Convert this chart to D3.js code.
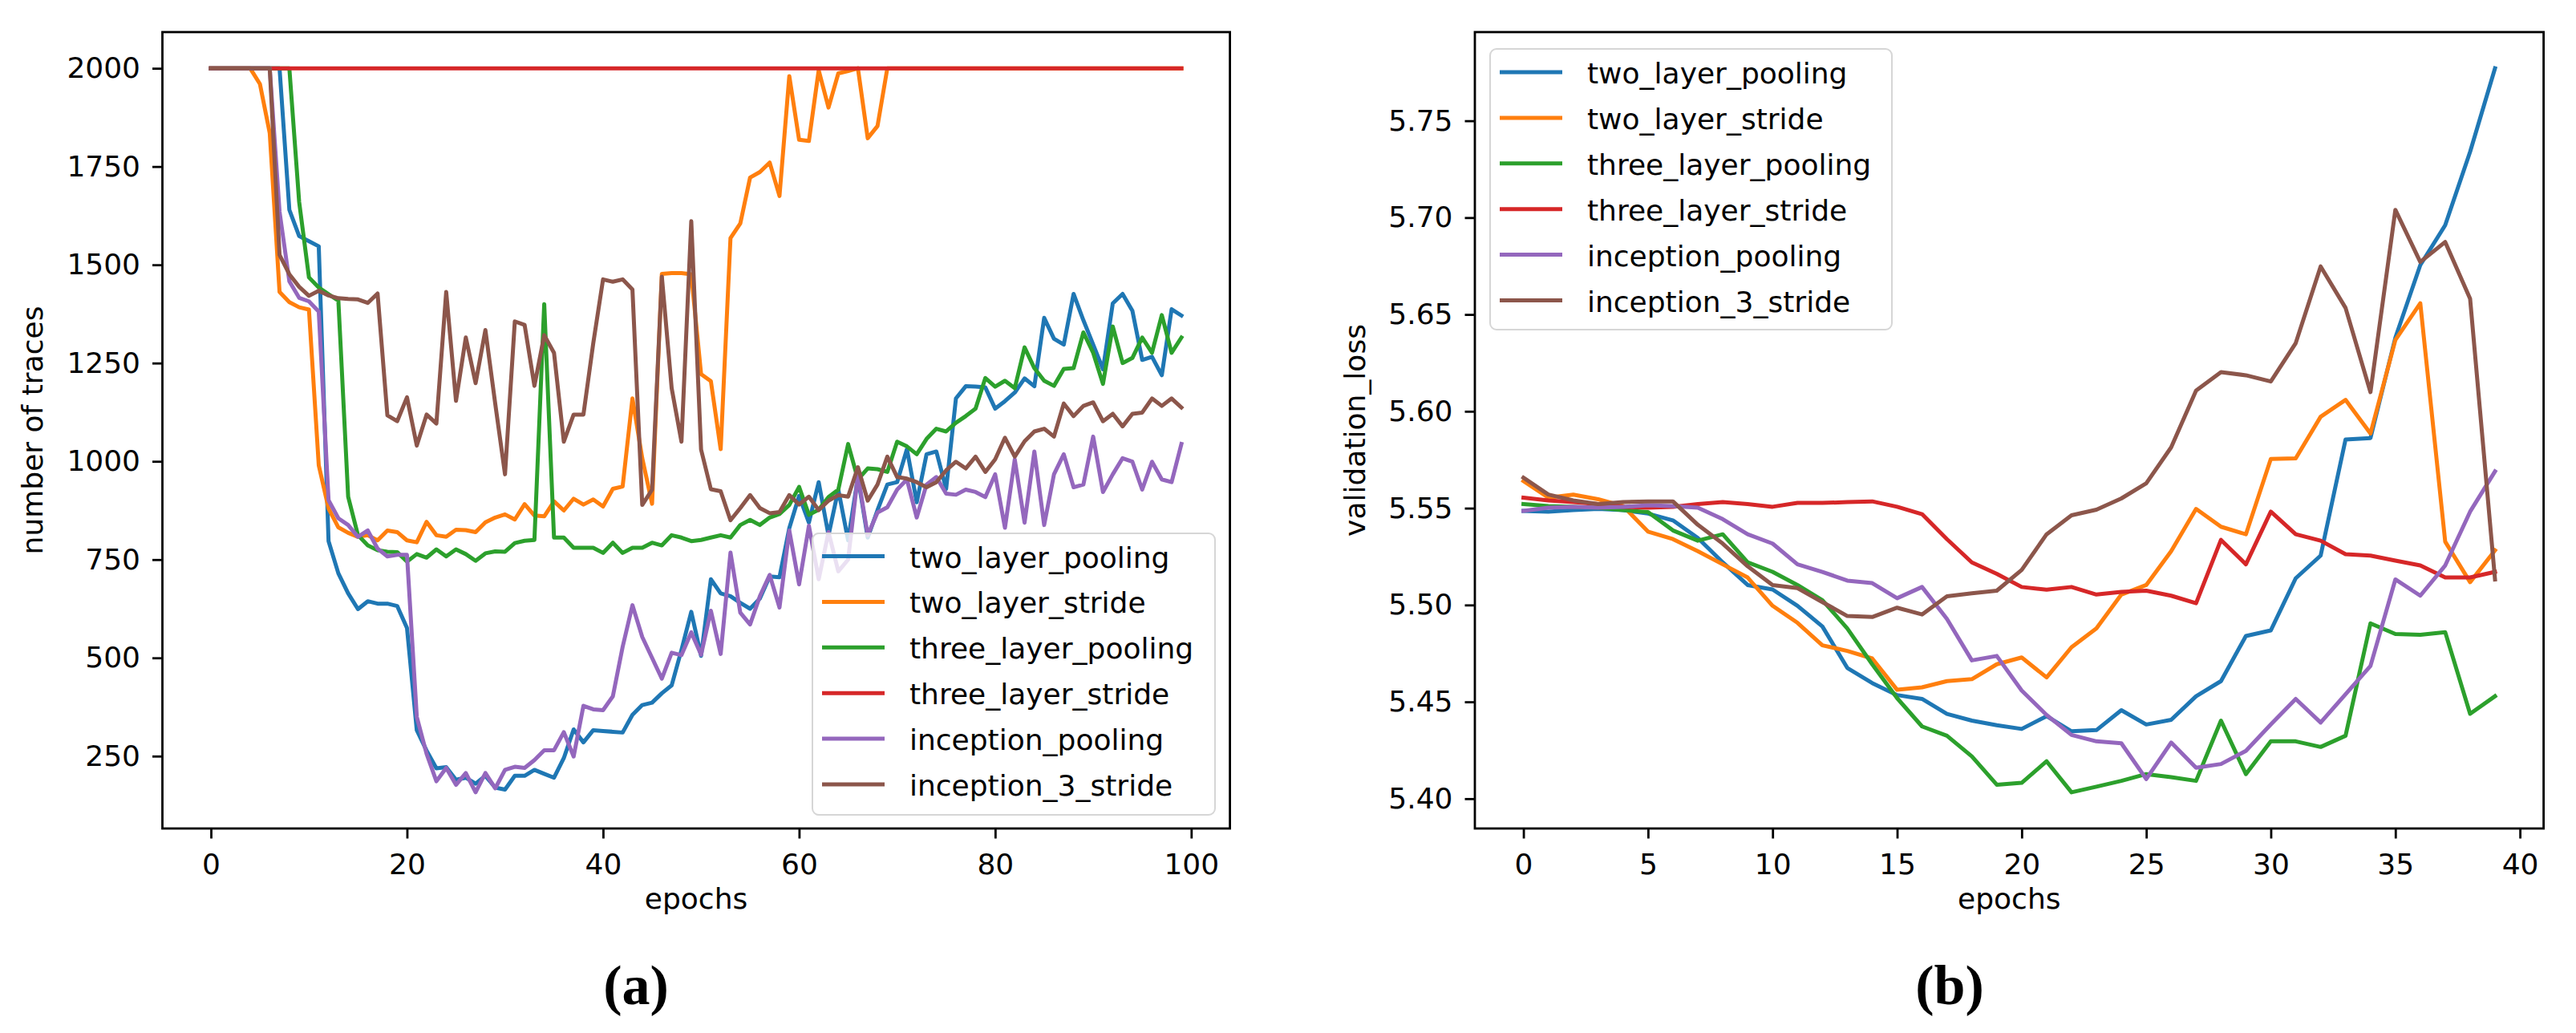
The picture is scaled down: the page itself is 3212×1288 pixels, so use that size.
<!DOCTYPE html>
<html>
<head>
<meta charset="utf-8">
<script src="https://cdn.jsdelivr.net/npm/d3@7"></script>
<style>
  body { margin: 0; background: #fff; }
  svg text { font-family: "DejaVu Sans", sans-serif; fill: #000; }
</style>
</head>
<body>
<svg id="chart"></svg>
<script>
// series names and matplotlib tab10 colours
const seriesNames = ["two_layer_pooling", "two_layer_stride", "three_layer_pooling",
  "three_layer_stride", "inception_pooling", "inception_3_stride"];
const seriesColors = ["#1f77b4", "#ff7f0e", "#2ca02c", "#d62728", "#9467bd", "#8c564b"];

// (a) number of traces, epochs 0..99
const tracesTwoLayerPooling = [2000, 2000, 2000, 2000, 2000, 2000, 2000, 2000, 1640, 1573,
  1560, 1547, 797, 715, 664, 624, 644, 638, 638, 632,
  576, 316, 264, 219, 222, 190, 195, 180, 200, 170,
  165, 200, 200, 215, 205, 195, 245, 318, 285, 316,
  314, 312, 310, 355, 380, 386, 410, 430, 520, 617,
  505, 700, 664, 657, 640, 625, 651, 707, 705, 830,
  912, 844, 947, 812, 928, 799, 960, 806, 876, 941,
  947, 1031, 896, 1018, 1025, 930, 1160, 1191, 1190, 1188,
  1134, 1153, 1175, 1211, 1191, 1365, 1312, 1297, 1426, 1359,
  1297, 1234, 1402, 1426, 1383, 1258, 1266, 1219, 1387, 1371];
const tracesTwoLayerStride = [2000, 2000, 2000, 2000, 2000, 1960, 1835, 1431, 1405, 1392,
  1386, 990, 880, 832, 818, 808, 812, 799, 824, 820,
  799, 794, 846, 812, 808, 826, 825, 820, 845, 857,
  865, 852, 891, 862, 860, 898, 875, 905, 890, 903,
  885, 930, 936, 1160, 1008, 892, 1477, 1479, 1479, 1476,
  1222, 1204, 1031, 1568, 1605, 1722, 1736, 1760, 1675, 1980,
  1818, 1815, 1995, 1900, 1987, 1993, 2000, 1822, 1853, 2000,
  2000, 2000, 2000, 2000, 2000, 2000, 2000, 2000, 2000, 2000,
  2000, 2000, 2000, 2000, 2000, 2000, 2000, 2000, 2000, 2000,
  2000, 2000, 2000, 2000, 2000, 2000, 2000, 2000, 2000, 2000];
const tracesThreeLayerPooling = [2000, 2000, 2000, 2000, 2000, 2000, 2000, 2000, 2000, 1660,
  1468, 1442, 1425, 1409, 910, 812, 786, 774, 770, 769,
  745, 764, 755, 776, 758, 776, 764, 747, 766, 771,
  770, 792, 798, 800, 1400, 806, 806, 780, 780, 780,
  767, 793, 767, 780, 780, 793, 786, 812, 806, 797,
  800, 806, 812, 806, 838, 851, 838, 857, 866, 889,
  935, 864, 877, 909, 928, 1044, 954, 982, 980, 973,
  1050, 1038, 1018, 1057, 1083, 1076, 1098, 1115, 1134, 1212,
  1190, 1205, 1186, 1290, 1237, 1205, 1192, 1235, 1237, 1328,
  1276, 1197, 1343, 1250, 1263, 1315, 1276, 1372, 1276, 1315];
const tracesThreeLayerStride = [2000, 2000, 2000, 2000, 2000, 2000, 2000, 2000, 2000, 2000,
  2000, 2000, 2000, 2000, 2000, 2000, 2000, 2000, 2000, 2000,
  2000, 2000, 2000, 2000, 2000, 2000, 2000, 2000, 2000, 2000,
  2000, 2000, 2000, 2000, 2000, 2000, 2000, 2000, 2000, 2000,
  2000, 2000, 2000, 2000, 2000, 2000, 2000, 2000, 2000, 2000,
  2000, 2000, 2000, 2000, 2000, 2000, 2000, 2000, 2000, 2000,
  2000, 2000, 2000, 2000, 2000, 2000, 2000, 2000, 2000, 2000,
  2000, 2000, 2000, 2000, 2000, 2000, 2000, 2000, 2000, 2000,
  2000, 2000, 2000, 2000, 2000, 2000, 2000, 2000, 2000, 2000,
  2000, 2000, 2000, 2000, 2000, 2000, 2000, 2000, 2000, 2000];
const tracesInceptionPooling = [2000, 2000, 2000, 2000, 2000, 2000, 2000, 1635, 1458, 1416,
  1407, 1381, 901, 855, 838, 808, 824, 778, 758, 762,
  762, 350, 256, 186, 220, 177, 207, 158, 207, 168,
  215, 223, 220, 240, 265, 265, 311, 249, 378, 369,
  367, 402, 528, 634, 553, 500, 447, 513, 507, 565,
  508, 620, 510, 768, 615, 585, 657, 711, 628, 824,
  687, 836, 700, 820, 720, 750, 965, 812, 870, 883,
  928, 954, 857, 941, 960, 918, 915, 928, 922, 909,
  967, 831, 1005, 844, 1025, 838, 967, 1018, 934, 941,
  1063, 922, 967, 1008, 999, 928, 999, 954, 947, 1044];
const tracesInception3Stride = [2000, 2000, 2000, 2000, 2000, 2000, 2000, 1525, 1476, 1444,
  1421, 1434, 1422, 1415, 1413, 1412, 1403, 1427, 1117, 1102,
  1163, 1040, 1119, 1096, 1431, 1154, 1315, 1199, 1334, 1147,
  967, 1356, 1347, 1192, 1321, 1276, 1050, 1119, 1119, 1300,
  1463, 1457, 1463, 1437, 889, 928, 1470, 1186, 1050, 1611,
  1030, 929, 924, 850, 881, 914, 881, 868, 871, 914,
  890, 910, 876, 900, 914, 910, 985, 900, 941, 1012,
  960, 956, 947, 934, 947, 977, 999, 982, 1012, 973,
  1005, 1060, 1012, 1051, 1076, 1083, 1063, 1147, 1115, 1141,
  1150, 1102, 1121, 1089, 1121, 1124, 1160, 1141, 1160, 1137];

// (b) validation loss, epochs 0..39
const lossTwoLayerPooling = [5.5486, 5.5482, 5.549, 5.5496, 5.549, 5.5472, 5.5437, 5.5346, 5.522, 5.5103,
  5.508, 5.4996, 5.4889, 5.4675, 5.4597, 5.4535, 5.4515, 5.4438, 5.4403, 5.4379,
  5.436, 5.4426, 5.4348, 5.4354, 5.4457, 5.4383, 5.4407, 5.4529, 5.4607, 5.484,
  5.4869, 5.5138, 5.5255, 5.5854, 5.5862, 5.638, 5.6755, 5.6961, 5.734, 5.7771];
const lossTwoLayerStride = [5.564, 5.5554, 5.557, 5.5546, 5.5511, 5.5379, 5.534, 5.5278, 5.521, 5.5142,
  5.4996, 5.4908, 5.4792, 5.4763, 5.4724, 5.4562, 5.4575, 5.4607, 5.4617, 5.4694,
  5.4729, 5.4626, 5.4782, 5.4879, 5.5054, 5.5103, 5.5278, 5.5496, 5.5404, 5.5365,
  5.5754, 5.5757, 5.5972, 5.6059, 5.5885, 5.6368, 5.6558, 5.5327, 5.5118, 5.5282];
const lossThreeLayerPooling = [5.5521, 5.5511, 5.5507, 5.5502, 5.549, 5.548, 5.5385, 5.5332, 5.5365, 5.522,
  5.5171, 5.5103, 5.5025, 5.4879, 5.4694, 5.4519, 5.4373, 5.4325, 5.4218, 5.4072,
  5.4082, 5.4193, 5.4033, 5.4062, 5.4092, 5.4127, 5.4111, 5.4092, 5.4403, 5.4127,
  5.4296, 5.4296, 5.4267, 5.4325, 5.4905, 5.485, 5.4846, 5.486, 5.4438, 5.4529];
const lossThreeLayerStride = [5.5554, 5.554, 5.5531, 5.5521, 5.5507, 5.5502, 5.5507, 5.5521, 5.5531, 5.5521,
  5.5507, 5.5527, 5.5527, 5.5531, 5.5535, 5.5507, 5.5469, 5.534, 5.522, 5.5161,
  5.5093, 5.5079, 5.5093, 5.5054, 5.5068, 5.5074, 5.5048, 5.5009, 5.5336, 5.521,
  5.5482, 5.5365, 5.5332, 5.5262, 5.5255, 5.5229, 5.5204, 5.5142, 5.5142, 5.5171];
const lossInceptionPooling = [5.5486, 5.5502, 5.5507, 5.5502, 5.5507, 5.5515, 5.5511, 5.5502, 5.5443, 5.5365,
  5.5317, 5.521, 5.5171, 5.5126, 5.5113, 5.5035, 5.5093, 5.4928, 5.4714, 5.4737,
  5.4558, 5.4432, 5.4329, 5.4296, 5.4286, 5.4101, 5.429, 5.416, 5.4179, 5.4247,
  5.4383, 5.4515, 5.4393, 5.4539, 5.4685, 5.5132, 5.5048, 5.5204, 5.5482, 5.569];
const lossInception3Stride = [5.5657, 5.557, 5.554, 5.5521, 5.5531, 5.5535, 5.5535, 5.5414, 5.5317, 5.52,
  5.5103, 5.5087, 5.5015, 5.4943, 5.4938, 5.4986, 5.4951, 5.5045, 5.506, 5.5074,
  5.5181, 5.5365, 5.5463, 5.5492, 5.555, 5.5628, 5.5814, 5.6107, 5.6202, 5.6186,
  5.6154, 5.6352, 5.6748, 5.6534, 5.6099, 5.704, 5.6771, 5.6874, 5.6581, 5.5132];

// tick labels
const ticksAX = [0, 20, 40, 60, 80, 100];
const ticksAY = [250, 500, 750, 1000, 1250, 1500, 1750, 2000];
const ticksBX = [0, 5, 10, 15, 20, 25, 30, 35, 40];
const ticksBY = [5.40, 5.45, 5.50, 5.55, 5.60, 5.65, 5.70, 5.75];

const W = 3212, H = 1288;
const svg = d3.select("#chart").attr("width", W).attr("height", H);
svg.append("rect").attr("width", W).attr("height", H).attr("fill", "#fff");

const FS = 36;

function drawPanel(cfg) {
  const n = cfg.series[0].length;
  // matplotlib style 5% margins
  const all = cfg.series.flat();
  const ymin = d3.min(all), ymax = d3.max(all);
  const yr = ymax - ymin;
  const xr = n - 1;

  const x = d3.scaleLinear()
    .domain([-0.05 * xr, xr * 1.05])
    .range([cfg.left, cfg.right]);
  const y = d3.scaleLinear()
    .domain([ymin - 0.05 * yr, ymax + 0.05 * yr])
    .range([cfg.bottom, cfg.top]);

  const g = svg.append("g");

  const line = d3.line()
    .x((d, i) => x(i))
    .y(d => y(d));

  g.append("g")
    .selectAll("path")
    .data(cfg.series)
    .enter().append("path")
    .attr("d", d => line(d))
    .attr("fill", "none")
    .attr("stroke", (d, i) => seriesColors[i])
    .attr("stroke-width", 5)
    .attr("stroke-linejoin", "round")
    .attr("stroke-linecap", "square");

  // axes
  const xAxis = g.append("g")
    .attr("transform", "translate(0," + cfg.bottom + ")")
    .call(d3.axisBottom(x).tickValues(cfg.ticksX).tickSize(12.5).tickPadding(19)
      .tickFormat(d3.format("d")));
  const yAxis = g.append("g")
    .attr("transform", "translate(" + cfg.left + ",0)")
    .call(d3.axisLeft(y).tickValues(cfg.ticksY).tickSize(12.5).tickPadding(15)
      .tickFormat(cfg.yFormat));

  [xAxis, yAxis].forEach(a => {
    a.select(".domain").remove();
    a.attr("font-size", FS).attr("font-family", "DejaVu Sans");
    a.selectAll(".tick line").attr("stroke", "#000").attr("stroke-width", 2.8);
    a.selectAll(".tick text").attr("fill", "#000");
  });

  // frame
  g.append("rect")
    .attr("x", cfg.left).attr("y", cfg.top)
    .attr("width", cfg.right - cfg.left)
    .attr("height", cfg.bottom - cfg.top)
    .attr("fill", "none")
    .attr("stroke", "#000")
    .attr("stroke-width", 2.8);

  // axis labels
  g.append("text")
    .attr("x", (cfg.left + cfg.right) / 2)
    .attr("y", 1133)
    .attr("text-anchor", "middle")
    .attr("font-size", FS)
    .text("epochs");
  g.append("text")
    .attr("transform", "translate(" + cfg.yLabelX + "," + (cfg.top + cfg.bottom) / 2 + ") rotate(-90)")
    .attr("text-anchor", "middle")
    .attr("font-size", FS)
    .text(cfg.yLabel);

  // legend
  const lg = cfg.legend;
  g.append("rect")
    .attr("x", lg.x).attr("y", lg.y)
    .attr("width", lg.w).attr("height", lg.h)
    .attr("rx", 8)
    .attr("fill", "#fff")
    .attr("fill-opacity", 0.8)
    .attr("stroke", "#d6d6d6")
    .attr("stroke-width", 2);

  const item = g.append("g")
    .selectAll("g")
    .data(seriesNames)
    .enter().append("g")
    .attr("transform", (d, i) => "translate(0," + (lg.row0 + i * 56.9) + ")");
  item.append("line")
    .attr("x1", lg.x + 12).attr("x2", lg.x + 90)
    .attr("stroke", (d, i) => seriesColors[i])
    .attr("stroke-width", 5);
  item.append("text")
    .attr("x", lg.x + 121)
    .attr("y", 14)
    .attr("font-size", FS)
    .text(d => d);

  // panel caption
  svg.append("text")
    .attr("x", cfg.captionX)
    .attr("y", 1252)
    .attr("text-anchor", "middle")
    .style("font-family", "'Liberation Serif', 'DejaVu Serif', serif")
    .attr("font-weight", "bold")
    .attr("font-size", 70)
    .text(cfg.caption);
}

drawPanel({
  series: [tracesTwoLayerPooling, tracesTwoLayerStride, tracesThreeLayerPooling,
    tracesThreeLayerStride, tracesInceptionPooling, tracesInception3Stride],
  left: 202.5, right: 1533.6, top: 40, bottom: 1033,
  ticksX: ticksAX, ticksY: ticksAY,
  yFormat: d3.format("d"),
  yLabel: "number of traces", yLabelX: 53,
  legend: { x: 1013, y: 665, w: 502, h: 351, row0: 693.5 },
  caption: "(a)", captionX: 793
});

drawPanel({
  series: [lossTwoLayerPooling, lossTwoLayerStride, lossThreeLayerPooling,
    lossThreeLayerStride, lossInceptionPooling, lossInception3Stride],
  left: 1839, right: 3171.6, top: 40, bottom: 1033,
  ticksX: ticksBX, ticksY: ticksBY,
  yFormat: d3.format(".2f"),
  yLabel: "validation_loss", yLabelX: 1702,
  legend: { x: 1858, y: 61, w: 501, h: 350, row0: 90 },
  caption: "(b)", captionX: 2431
});
</script>
</body>
</html>
